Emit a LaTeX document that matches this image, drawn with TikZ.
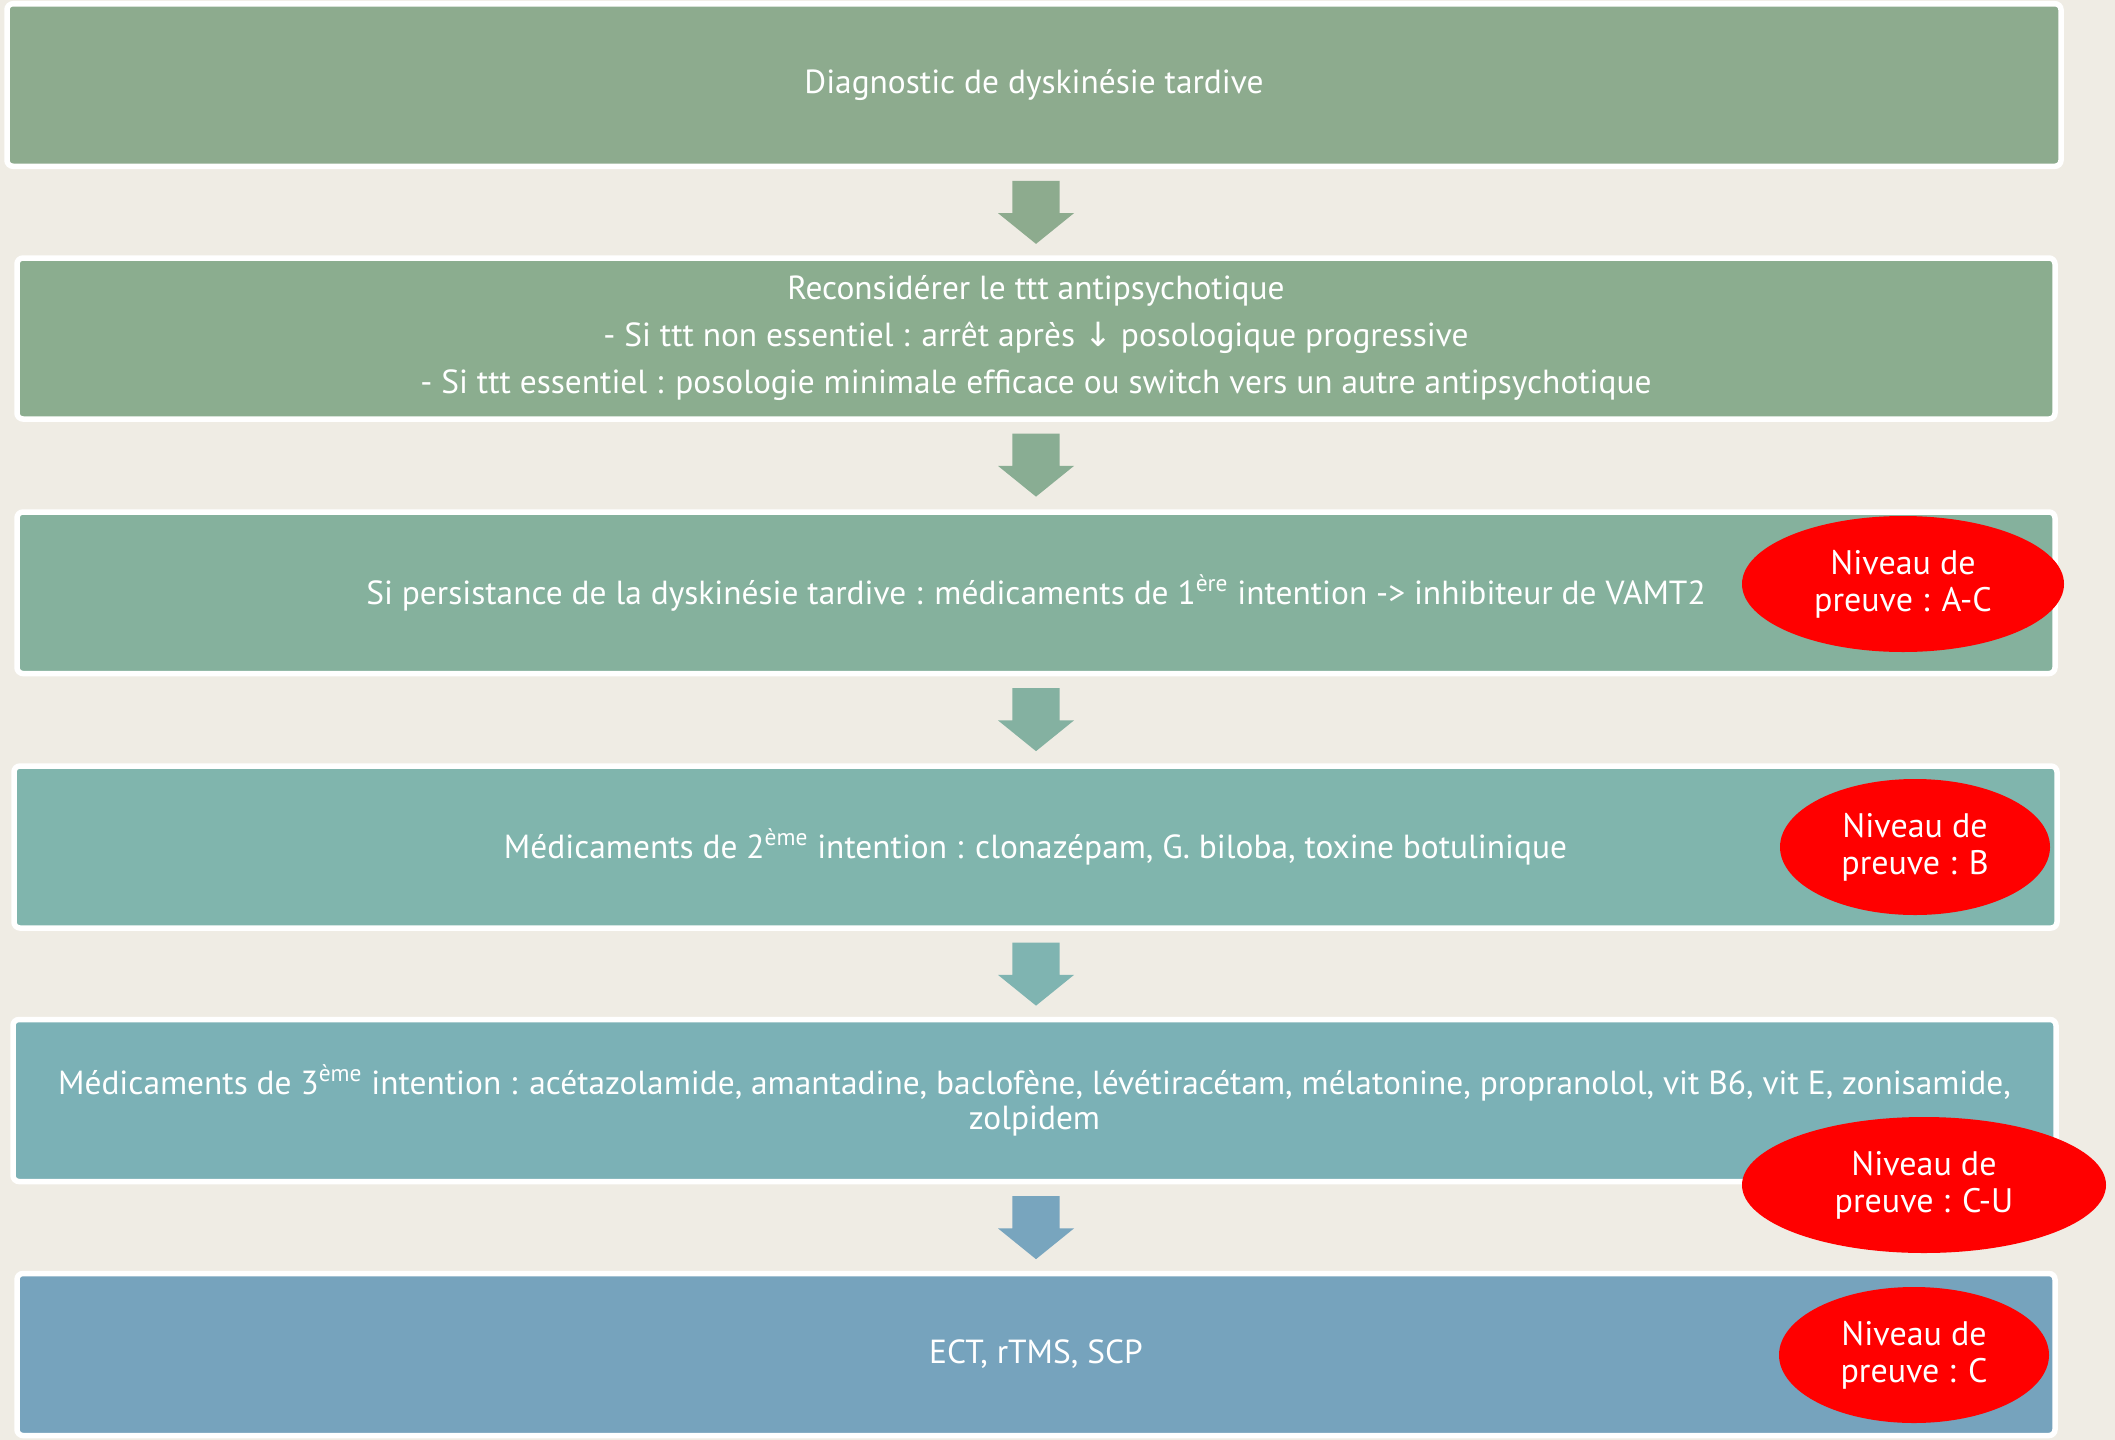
\documentclass[tikz,border=0pt]{standalone}
\usepackage{fontspec}
\setmainfont{PT Sans}
\newfontfamily\symfont{DejaVu Sans}
\usetikzlibrary{shapes.geometric,shapes.arrows,calc}

\definecolor{bgcol}{HTML}{EFECE4}
\definecolor{stepA}{HTML}{8DAB8E}
\definecolor{stepB}{HTML}{8BAD8F}
\definecolor{stepC}{HTML}{85B19D}
\definecolor{stepD}{HTML}{80B5AD}
\definecolor{stepE}{HTML}{7BB1B6}
\definecolor{stepF}{HTML}{76A3BD}
\definecolor{arrA}{HTML}{8DAB8E}
\definecolor{arrB}{HTML}{89AD93}
\definecolor{arrC}{HTML}{84B1A1}
\definecolor{arrD}{HTML}{7FB4B1}
\definecolor{arrE}{HTML}{78A5BE}

\tikzset{
  stepbox/.style={rectangle, rounded corners=3pt, draw=white, line width=2.75pt,
    text=white, align=center, inner sep=0pt,
    font=\fontsize{16.7}{17.5}\selectfont},
  preuve/.style={ellipse, fill=red, draw=none, text=white, align=center, inner sep=0pt,
    minimum height=68pt, font=\fontsize{17}{18.5}\selectfont},
  downarrow/.style={single arrow, rotate=-90, draw=none, inner sep=0pt, anchor=tail,
    minimum height=31.5pt, minimum width=38pt,
    single arrow tip angle=102}
}

\begin{document}
\begin{tikzpicture}[x=0.5pt,y=0.5pt,yscale=-1,xscale=1]
\fill[bgcol] (0,0) rectangle (2115,1440);
\useasboundingbox (0,0) rectangle (2115,1440);

% Step boxes
\node[stepbox, fill=stepA, minimum width=1027pt, minimum height=81.25pt] (diag) at (1034,85) {Diagnostic de dyskinésie tardive};
\node[stepbox, fill=stepB, minimum width=1019pt, minimum height=80.5pt] (recons) at (1036,338.5) {Reconsidérer le ttt antipsychotique\\[6pt]
- Si ttt non essentiel : arrêt après {\symfont ↓} posologique progressive\\[6pt]
- Si ttt essentiel : posologie minimale efficace ou switch vers un autre antipsychotique};
\node[stepbox, fill=stepC, minimum width=1019pt, minimum height=80.75pt] (first) at (1036,592.75) {Si persistance de la dyskinésie tardive : médicaments de 1\textsuperscript{ère} intention -> inhibiteur de VAMT2};
\node[stepbox, fill=stepD, minimum width=1021.5pt, minimum height=81pt] (second) at (1035.5,847) {Médicaments de 2\textsuperscript{ème} intention : clonazépam, G. biloba, toxine botulinique};
\node[stepbox, fill=stepE, minimum width=1021.5pt, minimum height=81pt] (third) at (1034.5,1100.5) {Médicaments de 3\textsuperscript{ème} intention : acétazolamide, amantadine, baclofène, lévétiracétam, mélatonine, propranolol, vit B6, vit E, zonisamide,\\zolpidem};
\node[stepbox, fill=stepF, minimum width=1019pt, minimum height=81pt] (last) at (1036,1354.5) {ECT, rTMS, SCP};

% Evidence levels
\node[preuve, minimum width=161pt] (lvlA) at (1903,584) {Niveau de\\preuve : A-C};
\node[preuve, minimum width=135pt] (lvlB) at (1915,847) {Niveau de\\preuve : B};
\node[preuve, minimum width=182pt] (lvlC) at (1924,1185) {Niveau de\\preuve : C-U};
\node[preuve, minimum width=135pt] (lvlD) at (1914,1355) {Niveau de\\preuve : C};

% Arrows
\node[downarrow, fill=arrA] (arr1) at ($(diag.south)+(2,11.5)$) {\rule{0pt}{23pt}};
\node[downarrow, fill=arrB] (arr2) at ($(recons.south)+(0,11.5)$) {\rule{0pt}{23pt}};
\node[downarrow, fill=arrC] (arr3) at ($(first.south)+(0,11.5)$) {\rule{0pt}{23pt}};
\node[downarrow, fill=arrD] (arr4) at ($(second.south)+(0.5,11.5)$) {\rule{0pt}{23pt}};
\node[downarrow, fill=arrE] (arr5) at ($(third.south)+(1.5,11.5)$) {\rule{0pt}{23pt}};

\end{tikzpicture}
\end{document}
